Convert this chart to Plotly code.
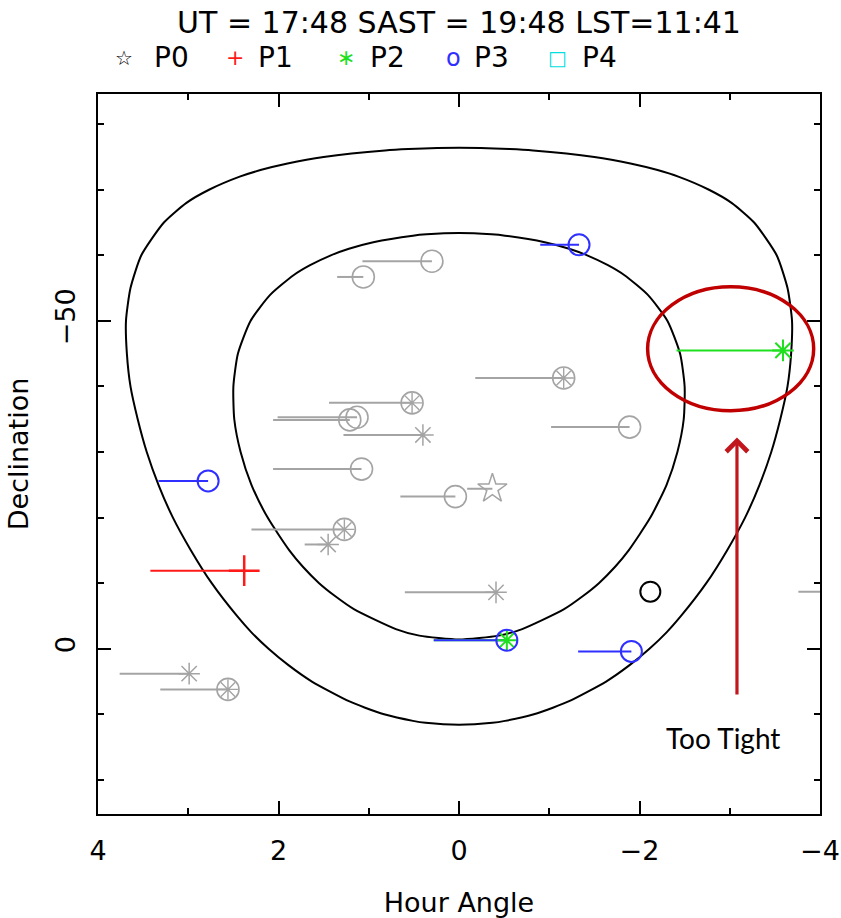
import plotly.graph_objects as go

# ---------------- data ----------------
TITLE = "UT = 17:48 SAST = 19:48 LST=11:41"

# visibility contours: hour angle (h) and declination (deg)
outer_ha = [0.0, 0.56, 0.82, 1.50, 1.90, 2.20, 2.43, 2.77, 3.02, 3.27, 3.52, 3.64, 3.69,
            3.68, 3.64, 3.56, 3.46, 3.33, 3.17, 2.97, 2.74, 2.46, 2.30, 2.11, 1.89, 1.63,
            1.22, 1.04, 0.83, 0.51, 0.37, 0.0,
            -0.37, -0.51, -0.83, -1.04, -1.22, -1.63, -1.89, -2.11, -2.30, -2.46, -2.74,
            -2.97, -3.17, -3.33, -3.46, -3.56, -3.64, -3.68, -3.69, -3.64, -3.52, -3.27,
            -3.02, -2.77, -2.43, -2.20, -1.90, -1.50, -0.82, -0.56, 0.0]
outer_dec = [-76.4, -76.2, -76.0, -75.0, -74.0, -73.0, -72.0, -70.0, -68.0, -65.0, -60.0, -55.0, -50.0,
             -45.0, -40.0, -35.0, -30.0, -25.0, -20.0, -15.0, -10.0, -5.0, -2.5, 0.0, 2.5, 5.0,
             8.0, 9.0, 10.0, 11.0, 11.3, 11.6,
             11.3, 11.0, 10.0, 9.0, 8.0, 5.0, 2.5, 0.0, -2.5, -5.0, -10.0,
             -15.0, -20.0, -25.0, -30.0, -35.0, -40.0, -45.0, -50.0, -55.0, -60.0, -65.0,
             -68.0, -70.0, -72.0, -73.0, -74.0, -75.0, -76.0, -76.2, -76.4]

inner_ha = [0.0, 0.36, 0.51, 0.95, 1.22, 1.42, 1.65, 1.83, 2.09, 2.31, 2.45, 2.50, 2.49,
            2.42, 2.30, 2.12, 1.88, 1.73, 1.55, 1.37, 1.16, 0.70, 0.44, 0.0,
            -0.44, -0.70, -1.16, -1.37, -1.55, -1.73, -1.88, -2.12, -2.30, -2.42, -2.49,
            -2.50, -2.45, -2.31, -2.09, -1.83, -1.65, -1.42, -1.22, -0.95, -0.51, -0.36, 0.0]
inner_dec = [-63.4, -63.2, -63.0, -62.0, -61.0, -60.0, -58.5, -57.0, -54.0, -50.0, -45.0, -40.0, -35.0,
             -30.0, -25.0, -20.0, -15.0, -12.5, -10.0, -8.0, -6.0, -3.0, -2.0, -1.4,
             -2.0, -3.0, -6.0, -8.0, -10.0, -12.5, -15.0, -20.0, -25.0, -30.0, -35.0,
             -40.0, -45.0, -50.0, -54.0, -57.0, -58.5, -60.0, -61.0, -62.0, -63.0, -63.2, -63.4]

# gray targets: plain circles
gc_ha = [0.30, 1.06, 1.21, 1.13, -1.89, 1.08, 0.04]
gc_dec = [-59.1, -56.7, -34.9, -35.3, -33.8, -27.4, -23.2]
gc_start = [1.07, 1.35, 2.06, 2.01, -1.02, 2.06, 0.65]

# gray targets: circle + asterisk
gca_ha = [-1.16, 0.52, 1.27, 2.56]
gca_dec = [-41.3, -37.5, -18.2, 6.2]
gca_start = [-0.18, 1.44, 2.30, 3.31]

# gray targets: asterisks
ga_ha = [0.40, 1.45, -0.41, 2.99, -4.20]
ga_dec = [-32.6, -15.9, -8.6, 3.8, -8.7]
ga_start = [1.28, 1.71, 0.60, 3.76, -3.76]

# priority targets
p0_ha, p0_dec, p0_start = [-0.37], [-24.4], [-0.09]
p1_ha, p1_dec, p1_start = [2.38], [-11.9], [3.42]
p2_ha, p2_dec, p2_start = [-3.59, -0.53], [-45.5, -1.3], [-2.41, 0.28]
p3_ha = [-1.33, 2.78, -0.53, -1.91]
p3_dec = [-61.6, -25.6, -1.3, 0.4]
p3_start = [-0.90, 3.33, 0.28, -1.32]
blk_ha, blk_dec = [-2.12], [-8.7]

legend_symbols = ["☆", "+", "∗", "o", "□"]
legend_labels = ["P0", "P1", "P2", "P3", "P4"]

x_ticks = [4, 2, 0, -2, -4]
y_ticks = [-50, 0]

# ---------------- styles ----------------
GRAY = "#a4a4a4"
BLUE = "#2f2fff"
GREEN = "#1fe01f"
RED = "#ff1a1a"
CYAN = "#00e0e0"
legend_colors = ["black", RED, GREEN, BLUE, CYAN]
legend_sizes = [20, 22, 22, 24, 20]
FONT = "DejaVu Sans"

L, R, T, B = 98, 21, 94, 104
W, H = 841, 918
PW, PH = W - L - R, H - T - B


def px(xp):
    return (xp - L) / PW


def py(yp):
    return (H - B - yp) / PH


def tracks(starts, ends, decs):
    xs, ys = [], []
    for s, e, d in zip(starts, ends, decs):
        xs += [s, e, None]
        ys += [d, d, None]
    return xs, ys


fig = go.Figure()

# contours
for hx, dy in [(outer_ha, outer_dec), (inner_ha, inner_dec)]:
    fig.add_trace(go.Scatter(x=hx, y=dy, mode="lines",
                             line=dict(color="black", width=2, shape="spline", smoothing=0.6),
                             hoverinfo="skip", showlegend=False))

# track lines
for starts, ends, decs, col in [
    (gc_start, gc_ha, gc_dec, GRAY),
    (gca_start, gca_ha, gca_dec, GRAY),
    (ga_start, ga_ha, ga_dec, GRAY),
    (p0_start, p0_ha, p0_dec, GRAY),
    (p1_start, p1_ha, p1_dec, RED),
    (p2_start, p2_ha, p2_dec, GREEN),
    (p3_start, p3_ha, p3_dec, BLUE),
]:
    xs, ys = tracks(starts, ends, decs)
    fig.add_trace(go.Scatter(x=xs, y=ys, mode="lines", line=dict(color=col, width=2),
                             hoverinfo="skip", showlegend=False))


def markers(xv, yv, symbol, size, color, width):
    fig.add_trace(go.Scatter(x=xv, y=yv, mode="markers",
                             marker=dict(symbol=symbol, size=size, color=color,
                                         line=dict(color=color, width=width)),
                             showlegend=False))


markers(gc_ha, gc_dec, "circle-open", 22, GRAY, 1.6)
markers(gca_ha, gca_dec, "circle-open", 22, GRAY, 1.6)
markers(gca_ha, gca_dec, "asterisk-open", 17, GRAY, 1.4)
markers(ga_ha, ga_dec, "asterisk-open", 18, GRAY, 1.5)
markers(p0_ha, p0_dec, "star-open", 22, GRAY, 1.5)
markers(p1_ha, p1_dec, "cross-thin-open", 22, RED, 2.5)
markers(p2_ha, p2_dec, "asterisk-open", 18, GREEN, 2)
markers(p3_ha, p3_dec, "circle-open", 21, BLUE, 2)
markers(blk_ha, blk_dec, "circle-open", 20, "black", 2)

# annotation ellipse + arrow + text
fig.add_shape(type="circle", xref="x", yref="y", x0=-2.09, x1=-3.93, y0=-55.2, y1=-36.3,
              line=dict(color="#c00000", width=3.5))
fig.add_annotation(x=-3.08, y=-32.2, ax=-3.08, ay=7.2, xref="x", yref="y",
                   axref="x", ayref="y", text="", showarrow=True,
                   arrowhead=4, arrowsize=1.3, arrowwidth=3.2, arrowcolor="#c0161c")
fig.add_annotation(x=px(723), y=py(738), xref="paper", yref="paper", text="Too Tight",
                   showarrow=False, xanchor="center", yanchor="middle",
                   font=dict(family="Lato", size=28, color="black"))

# legend row
sym_x = [124, 235, 346, 453, 557]
lab_x = [152, 256, 368, 472, 580]
for s, lbl, c, sz, sx, lx in zip(legend_symbols, legend_labels, legend_colors, legend_sizes,
                                 sym_x, lab_x):
    fig.add_annotation(x=px(sx), y=py(58), xref="paper", yref="paper", text=s,
                       showarrow=False, xanchor="center", yanchor="middle",
                       font=dict(family=FONT, size=sz, color=c))
    fig.add_annotation(x=px(lx), y=py(58), xref="paper", yref="paper", text=lbl,
                       showarrow=False, xanchor="left", yanchor="middle",
                       font=dict(family=FONT, size=28, color="black"))

axis_common = dict(showgrid=False, zeroline=False, showline=True, linecolor="black",
                   linewidth=2, mirror="ticks", ticks="inside", tickcolor="black",
                   tickwidth=2, ticklen=13, automargin=False,
                   tickfont=dict(family=FONT, size=27, color="black"))

fig.update_layout(
    width=W, height=H,
    margin=dict(l=L, r=R, t=T, b=B),
    paper_bgcolor="white", plot_bgcolor="white",
    showlegend=False,
    title=dict(text=TITLE, x=0.5, xref="paper", xanchor="center",
               y=1 - 22 / H, yref="container", yanchor="middle",
               font=dict(family=FONT, size=30, color="black")),
    xaxis=dict(range=[4, -4], tickmode="array", tickvals=x_ticks,
               ticktext=[("\u2212" + str(abs(v))) if v < 0 else str(v) for v in x_ticks],
               minor=dict(dtick=1, tick0=0, ticks="inside", ticklen=6, tickwidth=2,
                          tickcolor="black"),
               ticklabelstandoff=12,
               title=dict(text="Hour Angle", standoff=30,
                          font=dict(family=FONT, size=27, color="black")),
               **axis_common),
    yaxis=dict(range=[25.2, -84.6], tickmode="array", tickvals=y_ticks,
               ticktext=[("\u2212" + str(abs(v))) if v < 0 else str(v) for v in y_ticks],
               tickangle=-90,
               minor=dict(dtick=10, tick0=0, ticks="inside", ticklen=6, tickwidth=2,
                          tickcolor="black"),
               ticklabelstandoff=10,
               title=dict(text="Declination", standoff=14,
                          font=dict(family=FONT, size=27, color="black")),
               **axis_common),
)

fig.write_html("out.html", config={"displayModeBar": False},
               post_script="document.body.style.margin='0';")
